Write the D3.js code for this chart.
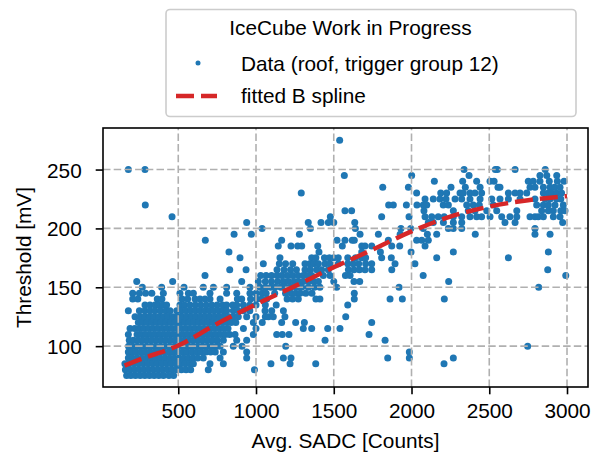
<!DOCTYPE html>
<html>
<head>
<meta charset="utf-8">
<script src="https://cdn.jsdelivr.net/npm/d3@7"></script>
<style>
  body { margin: 0; background: #fff; }
  svg text { font-family: "Liberation Sans", Arial, Helvetica, sans-serif; fill: #000; }
</style>
</head>
<body>
<div id="chart"></div>
<script>
// Threshold levels (mV) and the Avg. SADC counts of the points sitting on each level
var thresholds = [275, 250, 245, 240, 235, 230, 225, 220, 215, 210, 205, 200, 195, 190, 185, 180, 175, 170,
                  165, 160, 155, 150, 145, 140, 135, 130, 125, 120, 115, 110, 105, 100, 95, 90, 85, 80, 75];

var sadcRows = [
  [1538],
  [179, 286, 2338, 2539, 2552, 2666, 2860],
  [1568, 2001, 2370, 2826, 2870, 2934],
  [2147, 2329, 2419, 2505, 2531, 2751, 2783, 2826, 2886, 2938, 2981],
  [1815, 1980, 2254, 2346, 2441, 2556, 2569, 2762, 2794, 2848, 2891, 2920, 2955],
  [1291, 2033, 2188, 2226, 2312, 2333, 2376, 2408, 2451, 2623, 2666, 2698, 2741, 2848, 2880, 2901, 2933, 2965],
  [2087, 2140, 2183, 2222, 2280, 2323, 2376, 2441, 2516, 2569, 2623, 2698, 2794, 2859, 2891, 2933, 2960],
  [288, 1853, 1883, 1967, 2035, 2076, 2098, 2204, 2237, 2355, 2397, 2436, 2526, 2805, 2848, 2880, 2923, 2976],
  [1572, 1615, 2080, 2269, 2365, 2408, 2484, 2548, 2677, 2837, 2880, 2912, 2960, 2987],
  [460, 1478, 1808, 1984, 2087, 2130, 2172, 2210, 2269, 2323, 2376, 2419, 2451, 2505, 2580, 2633, 2677, 2762, 2794, 2815, 2848, 2912, 2955],
  [940, 1336, 1418, 1465, 1500, 1635, 2108, 2140, 2205, 2269, 2323, 2601, 2666, 2972],
  [1039, 1350, 1639, 1932, 1995, 2076, 2237, 2269, 2323, 2794],
  [859, 970, 1279, 1669, 1787, 1927, 2102, 2162, 2410, 2794, 2891],
  [674, 1165, 1521, 1572, 1619, 1632, 1851, 2033, 2066, 2108],
  [1143, 1225, 1268, 1294, 1397, 1555, 1680, 1701, 1744, 1873, 1924, 2087],
  [826, 1405, 1680, 1800, 1997, 2269, 2880],
  [897, 1154, 1358, 1385, 1440, 1472, 1500, 1529, 1590, 1640, 1680, 1705, 1808, 1870, 2162, 2623],
  [1047, 1150, 1190, 1236, 1315, 1345, 1372, 1401, 1444, 1475, 1530, 1590, 1625, 1660, 1705, 1744, 1894, 2022],
  [831, 936, 1135, 1180, 1222, 1260, 1315, 1350, 1390, 1422, 1465, 1594, 1630, 1665, 1701, 1744, 1873, 2876],
  [672, 1030, 1065, 1100, 1135, 1165, 1200, 1235, 1270, 1304, 1335, 1358, 1433, 1476, 1575, 1605, 2075, 2992],
  [233, 464, 908, 1015, 1060, 1100, 1140, 1176, 1210, 1245, 1275, 1304, 1340, 1372, 1401, 1500, 1630, 1667, 2239],
  [269, 393, 537, 661, 726, 811, 961, 1026, 1060, 1095, 1122, 1160, 1190, 1225, 1260, 1294, 1336, 1375, 1411, 1519, 1920, 2818],
  [207, 250, 290, 330, 404, 511, 565, 597, 704, 811, 876, 961, 1000, 1040, 1065, 1120, 1190, 1225, 1255, 1283, 1320, 1360, 1632],
  [207, 240, 365, 395, 525, 560, 608, 640, 672, 704, 769, 880, 908, 965, 1004, 1036, 1069, 1200, 1235, 1272, 1385, 1411, 1632, 1862, 1941, 2211],
  [286, 318, 350, 372, 400, 425, 511, 540, 575, 610, 645, 680, 715, 750, 785, 811, 850, 876, 919, 960, 1000, 1060, 1130, 1590],
  [179, 250, 285, 318, 350, 385, 420, 447, 490, 520, 550, 580, 610, 640, 670, 700, 730, 760, 790, 811, 854, 885, 919, 960, 1058, 1101, 1176],
  [222, 255, 285, 315, 345, 375, 405, 435, 465, 495, 525, 555, 585, 615, 645, 675, 705, 735, 765, 795, 825, 855, 886, 940, 1000, 1060, 1080, 1111, 1186, 1577],
  [243, 270, 300, 330, 360, 390, 420, 450, 480, 510, 540, 570, 600, 630, 660, 690, 720, 750, 780, 810, 840, 870, 983, 1040, 1165, 1255, 1311, 1744],
  [190, 220, 250, 280, 310, 340, 370, 400, 430, 460, 490, 520, 550, 580, 610, 640, 670, 700, 730, 760, 790, 820, 919, 1000, 1304, 1358, 1461, 1540],
  [179, 235, 262, 292, 322, 352, 382, 412, 442, 472, 502, 532, 562, 592, 622, 652, 682, 712, 742, 772, 802, 830, 865, 983, 1133, 1169, 1212, 1727],
  [185, 212, 242, 272, 302, 332, 362, 392, 422, 452, 482, 512, 542, 572, 602, 632, 662, 692, 722, 752, 790, 876, 940, 1444, 1830],
  [180, 205, 235, 265, 295, 325, 355, 385, 415, 445, 475, 505, 535, 565, 595, 625, 655, 685, 715, 745, 769, 854, 910, 1191, 2747],
  [179, 200, 228, 258, 288, 318, 348, 378, 408, 438, 468, 498, 528, 558, 588, 618, 648, 678, 708, 738, 790, 940, 1986],
  [179, 205, 235, 265, 295, 325, 355, 385, 415, 445, 475, 505, 535, 565, 595, 625, 661, 769, 940, 1176, 1225, 1847, 1986, 2269],
  [157, 185, 215, 245, 275, 305, 335, 365, 395, 425, 455, 485, 515, 545, 575, 597, 704, 790, 1096, 1219, 1384, 2209],
  [160, 190, 220, 250, 280, 310, 340, 370, 400, 430, 460, 490, 520, 550, 580, 693, 990],
  [168, 195, 225, 255, 285, 315, 345, 375, 405, 440, 470]
];

// fitted B spline
var splineSadc      = [155, 250, 500, 750, 1000, 1250, 1500, 1750, 2000, 2250, 2500, 2750, 3000];
var splineThreshold = [83.5, 88.5, 100.5, 119, 135.5, 151, 167, 182, 197.5, 210, 218.5, 224, 227.5];

var xTicks = [500, 1000, 1500, 2000, 2500, 3000];
var yTicks = [100, 150, 200, 250];

var blue = "#1f77b4", red = "#d62728";

var width = 595, height = 457;
var margin = { top: 128, right: 7, bottom: 70, left: 103 };

var svg = d3.select("#chart")
  .append("svg")
  .attr("width", width)
  .attr("height", height);

var x = d3.scaleLinear().domain([16, 3135]).range([margin.left, width - margin.right]);
var y = d3.scaleLinear().domain([65.3, 285.3]).range([height - margin.bottom, margin.top]);

var points = [];
thresholds.forEach(function (t, i) {
  sadcRows[i].forEach(function (s) {
    points.push({ sadc: s, threshold: t });
  });
});

// scatter (under the grid, like matplotlib's default)
svg.append("g")
  .selectAll("circle")
  .data(points)
  .enter()
  .append("circle")
  .attr("cx", function (d) { return x(d.sadc); })
  .attr("cy", function (d) { return y(d.threshold); })
  .attr("r", 3.5)
  .attr("fill", blue);

// grid
var grid = svg.append("g")
  .attr("stroke", "#b0b0b0")
  .attr("stroke-width", 1.6)
  .attr("stroke-dasharray", "7.5,3.2");
grid.selectAll(".gx").data(xTicks).enter().append("line")
  .attr("x1", function (d) { return x(d); }).attr("x2", function (d) { return x(d); })
  .attr("y1", y.range()[0]).attr("y2", y.range()[1]);
grid.selectAll(".gy").data(yTicks).enter().append("line")
  .attr("y1", function (d) { return y(d); }).attr("y2", function (d) { return y(d); })
  .attr("x1", x.range()[0]).attr("x2", x.range()[1]);

// spline
var line = d3.line()
  .x(function (d) { return x(d[0]); })
  .y(function (d) { return y(d[1]); })
  .curve(d3.curveMonotoneX);

svg.append("path")
  .datum(d3.zip(splineSadc, splineThreshold))
  .attr("d", line)
  .attr("fill", "none")
  .attr("stroke", red)
  .attr("stroke-width", 4.5)
  .attr("stroke-dasharray", "18,7");

// axes
var xAxis = d3.axisBottom(x).tickValues(xTicks).tickSize(7.3).tickPadding(9).tickFormat(d3.format("d"));
var gx = svg.append("g")
  .attr("transform", "translate(0," + (height - margin.bottom) + ")")
  .call(xAxis);

var yAxis = d3.axisLeft(y).tickValues(yTicks).tickSize(7.3).tickPadding(14).tickFormat(d3.format("d"));
var gy = svg.append("g")
  .attr("transform", "translate(" + margin.left + ",0)")
  .call(yAxis);

[gx, gy].forEach(function (g) {
  g.select(".domain").remove();
  g.selectAll(".tick line").attr("stroke", "#000").attr("stroke-width", 1.6);
  g.selectAll(".tick text").attr("font-size", "20.8px").attr("fill", "#000")
    .style("font-family", "'Liberation Sans', Arial, sans-serif");
});
gy.selectAll(".tick text").attr("dy", "0.36em");

// frame
svg.append("rect")
  .attr("x", x.range()[0]).attr("y", y.range()[1])
  .attr("width", x.range()[1] - x.range()[0])
  .attr("height", y.range()[0] - y.range()[1])
  .attr("fill", "none")
  .attr("stroke", "#000")
  .attr("stroke-width", 1.6);

// axis labels
svg.append("text")
  .attr("x", (x.range()[0] + x.range()[1]) / 2)
  .attr("y", 448)
  .attr("text-anchor", "middle")
  .attr("font-size", "20.8px")
  .text("Avg. SADC [Counts]");

svg.append("text")
  .attr("transform", "translate(31," + ((y.range()[0] + y.range()[1]) / 2) + ") rotate(-90)")
  .attr("text-anchor", "middle")
  .attr("font-size", "20.8px")
  .text("Threshold [mV]");

// legend
var legend = svg.append("g");
legend.append("rect")
  .attr("x", 166).attr("y", 9.5)
  .attr("width", 410).attr("height", 107)
  .attr("rx", 4)
  .attr("fill", "#fff").attr("fill-opacity", 0.8)
  .attr("stroke", "#cccccc").attr("stroke-width", 1.6);

legend.append("text")
  .attr("x", 350.5).attr("y", 35)
  .attr("text-anchor", "middle")
  .attr("font-size", "20.8px")
  .text("IceCube Work in Progress");

legend.append("circle")
  .attr("cx", 198).attr("cy", 63).attr("r", 2.5).attr("fill", blue);
legend.append("text")
  .attr("x", 241).attr("y", 70.5)
  .attr("font-size", "20.8px")
  .text("Data (roof, trigger group 12)");

legend.append("line")
  .attr("x1", 176).attr("x2", 217).attr("y1", 96).attr("y2", 96)
  .attr("stroke", red).attr("stroke-width", 4.5)
  .attr("stroke-dasharray", "18,7");
legend.append("text")
  .attr("x", 241).attr("y", 103)
  .attr("font-size", "20.8px")
  .text("fitted B spline");
</script>
</body>
</html>
